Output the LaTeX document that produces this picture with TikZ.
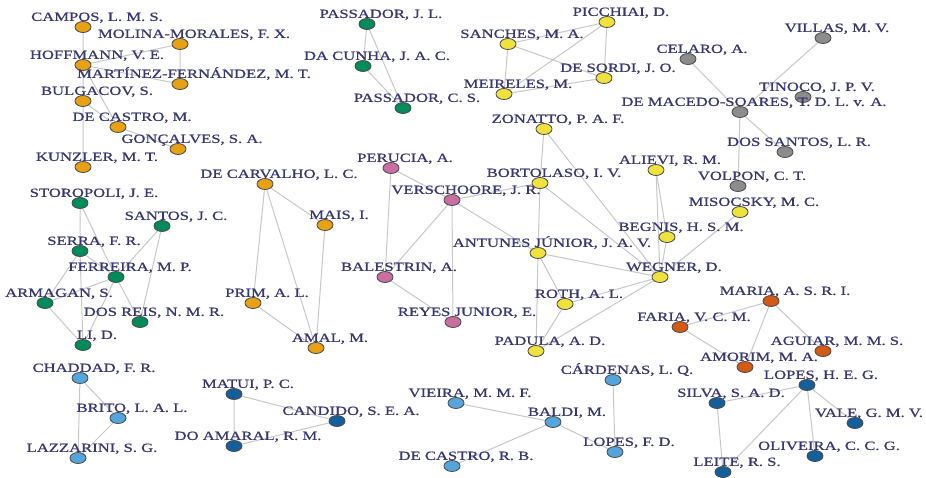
\documentclass[tikz,border=0pt]{standalone}
\usepackage{fontspec}
\setmainfont[FakeStretch=1.33,FakeBold=0.7]{Liberation Serif}
\usetikzlibrary{shapes.geometric,backgrounds}
\definecolor{authororange}{RGB}{232,160,20}
\definecolor{authorgreen}{RGB}{0,140,90}
\definecolor{authoryellow}{RGB}{240,226,60}
\definecolor{authorgray}{RGB}{140,140,140}
\definecolor{authorpink}{RGB}{200,110,160}
\definecolor{authorsky}{RGB}{85,165,220}
\definecolor{authornavy}{RGB}{20,95,155}
\definecolor{authorrust}{RGB}{210,90,20}
\definecolor{namecolor}{RGB}{55,55,115}
\definecolor{linkgray}{RGB}{200,200,200}

\begin{document}
\begin{tikzpicture}[x=1pt,y=-1pt,
  author/.style={ellipse,draw=black!70,line width=0.8pt,minimum width=16pt,
    minimum height=11pt,inner sep=0pt,fill=#1},
  authorname/.style={font=\fontsize{12.5}{13}\selectfont,text=namecolor,
    inner sep=0pt,text height=8pt,text depth=0pt,xshift=14pt},
  label distance=0pt,
  coauthor/.style={draw=linkgray,line width=1pt}]
  \useasboundingbox (0,0) rectangle (926,477);

  % orange group, top left
  \node [author=authororange, label={[authorname]above:{CAMPOS, L. M. S.}}] (campos) at (83,27) {};
  \node [author=authororange, label={[authorname]above:{MOLINA-MORALES, F. X.}}] (molina) at (180,44) {};
  \node [author=authororange, label={[authorname]above:{HOFFMANN, V. E.}}] (hoffmann) at (83,65) {};
  \node [author=authororange, label={[authorname]above:{MARTÍNEZ-FERNÁNDEZ, M. T.}}] (martinez) at (180,84) {};
  \node [author=authororange, label={[authorname]above:{BULGACOV, S.}}] (bulgacov) at (83,101) {};
  \node [author=authororange, label={[authorname]above:{DE CASTRO, M.}}] (decastrom) at (118,127) {};
  \node [author=authororange, label={[authorname]above:{GONÇALVES, S. A.}}] (goncalves) at (178,149) {};
  \node [author=authororange, label={[authorname]above:{KUNZLER, M. T.}}] (kunzler) at (83,167) {};

  % passador group
  \node [author=authorgreen, label={[authorname]above:{PASSADOR, J. L.}}] (passadorjl) at (367,24) {};
  \node [author=authorgreen, label={[authorname]above:{DA CUNHA, J. A. C.}}] (dacunha) at (363,66) {};
  \node [author=authorgreen, label={[authorname]above:{PASSADOR, C. S.}}] (passadorcs) at (403,108) {};

  % picchiai group
  \node [author=authoryellow, label={[authorname]above:{PICCHIAI, D.}}] (picchiai) at (607,22) {};
  \node [author=authoryellow, label={[authorname]above:{SANCHES, M. A.}}] (sanches) at (508,44) {};
  \node [author=authoryellow, label={[authorname]above:{DE SORDI, J. O.}}] (desordi) at (604,78) {};
  \node [author=authoryellow, label={[authorname]above:{MEIRELES, M.}}] (meireles) at (504,94) {};

  % gray group
  \node [author=authorgray, label={[authorname]above:{CELARO, A.}}] (celaro) at (688,59) {};
  \node [author=authorgray, label={[authorname]above:{VILLAS, M. V.}}] (villas) at (823,38) {};
  \node [author=authorgray, label={[authorname]above:{TINOCO, J. P. V.}}] (tinoco) at (803,97) {};
  \node [author=authorgray, label={[authorname]above:{DE MACEDO-SOARES, T. D. L. v. A.}}] (demacedo) at (740,112) {};
  \node [author=authorgray, label={[authorname]above:{DOS SANTOS, L. R.}}] (dossantos) at (785,152) {};
  \node [author=authorgray, label={[authorname]above:{VOLPON, C. T.}}] (volpon) at (738,186) {};

  % yellow group, centre
  \node [author=authoryellow, label={[authorname]above:{ZONATTO, P. A. F.}}] (zonatto) at (544,129) {};
  \node [author=authoryellow, label={[authorname]above:{BORTOLASO, I. V.}}] (bortolaso) at (540,183) {};
  \node [author=authoryellow, label={[authorname]above:{ALIEVI, R. M.}}] (alievi) at (656,170) {};
  \node [author=authoryellow, label={[authorname]above:{MISOCSKY, M. C.}}] (misocsky) at (740,212) {};
  \node [author=authoryellow, label={[authorname]above:{BEGNIS, H. S. M.}}] (begnis) at (667,237) {};
  \node [author=authoryellow, label={[authorname]above:{ANTUNES JÚNIOR, J. A. V.}}] (antunes) at (538,253) {};
  \node [author=authoryellow, label={[authorname]above:{WEGNER, D.}}] (wegner) at (660,277) {};
  \node [author=authoryellow, label={[authorname]above:{ROTH, A. L.}}] (roth) at (565,304) {};
  \node [author=authoryellow, label={[authorname]above:{PADULA, A. D.}}] (padula) at (536,351) {};

  % pink group
  \node [author=authorpink, label={[authorname]above:{PERUCIA, A.}}] (perucia) at (391,168) {};
  \node [author=authorpink, label={[authorname]above:{VERSCHOORE, J. R.}}] (verschoore) at (452,200) {};
  \node [author=authorpink, label={[authorname]above:{BALESTRIN, A.}}] (balestrin) at (385,277) {};
  \node [author=authorpink, label={[authorname]above:{REYES JUNIOR, E.}}] (reyes) at (453,322) {};

  % orange group, centre left
  \node [author=authororange, label={[authorname]above:{DE CARVALHO, L. C.}}] (decarvalho) at (265,184) {};
  \node [author=authororange, label={[authorname]above:{MAIS, I.}}] (mais) at (325,225) {};
  \node [author=authororange, label={[authorname]above:{PRIM, A. L.}}] (prim) at (253,303) {};
  \node [author=authororange, label={[authorname]above:{AMAL, M.}}] (amal) at (316,348) {};

  % green group, left
  \node [author=authorgreen, label={[authorname]above:{STOROPOLI, J. E.}}] (storopoli) at (80,203) {};
  \node [author=authorgreen, label={[authorname]above:{SANTOS, J. C.}}] (santos) at (162,226) {};
  \node [author=authorgreen, label={[authorname]above:{SERRA, F. R.}}] (serra) at (80,251) {};
  \node [author=authorgreen, label={[authorname]above:{FERREIRA, M. P.}}] (ferreira) at (116,277) {};
  \node [author=authorgreen, label={[authorname]above:{ARMAGAN, S.}}] (armagan) at (45,303) {};
  \node [author=authorgreen, label={[authorname]above:{DOS REIS, N. M. R.}}] (dosreis) at (140,322) {};
  \node [author=authorgreen, label={[authorname]above:{LI, D.}}] (li) at (83,345) {};

  % bottom row
  \node [author=authorsky, label={[authorname]above:{CHADDAD, F. R.}}] (chaddad) at (80,378) {};
  \node [author=authorsky, label={[authorname]above:{BRITO, L. A. L.}}] (brito) at (118,418) {};
  \node [author=authorsky, label={[authorname]above:{LAZZARINI, S. G.}}] (lazzarini) at (78,458) {};

  \node [author=authornavy, label={[authorname]above:{MATUI, P. C.}}] (matui) at (234,394) {};
  \node [author=authornavy, label={[authorname]above:{CANDIDO, S. E. A.}}] (candido) at (337,421) {};
  \node [author=authornavy, label={[authorname]above:{DO AMARAL, R. M.}}] (doamaral) at (234,446) {};

  \node [author=authorsky, label={[authorname]above:{VIEIRA, M. M. F.}}] (vieira) at (456,403) {};
  \node [author=authorsky, label={[authorname]above:{BALDI, M.}}] (baldi) at (553,422) {};
  \node [author=authorsky, label={[authorname]above:{DE CASTRO, R. B.}}] (decastrorb) at (452,466) {};
  \node [author=authorsky, label={[authorname]above:{CÁRDENAS, L. Q.}}] (cardenas) at (613,380) {};
  \node [author=authorsky, label={[authorname]above:{LOPES, F. D.}}] (lopesfd) at (615,452) {};

  \node [author=authorrust, label={[authorname]above:{MARIA, A. S. R. I.}}] (maria) at (771,301) {};
  \node [author=authorrust, label={[authorname]above:{FARIA, V. C. M.}}] (faria) at (680,327) {};
  \node [author=authorrust, label={[authorname]above:{AGUIAR, M. M. S.}}] (aguiar) at (823,351) {};
  \node [author=authorrust, label={[authorname]above:{AMORIM, M. A.}}] (amorim) at (745,367) {};

  \node [author=authornavy, label={[authorname]above:{LOPES, H. E. G.}}] (lopesheg) at (807,385) {};
  \node [author=authornavy, label={[authorname]above:{SILVA, S. A. D.}}] (silva) at (717,403) {};
  \node [author=authornavy, label={[authorname]above:{VALE, G. M. V.}}] (vale) at (855,423) {};
  \node [author=authornavy, label={[authorname]above:{OLIVEIRA, C. C. G.}}] (oliveira) at (815,456) {};
  \node [author=authornavy, label={[authorname]above:{LEITE, R. S.}}] (leite) at (723,472) {};

  % co-authorship links
  \begin{scope}[on background layer]
    \fill [white] (0,0) rectangle (926,477);
    \draw [coauthor] (campos) -- (hoffmann) (hoffmann) -- (bulgacov) (bulgacov) -- (kunzler)
      (hoffmann) -- (molina) (hoffmann) -- (martinez) (molina) -- (martinez)
      (hoffmann) -- (decastrom) (bulgacov) -- (decastrom) (decastrom) -- (goncalves);
    \draw [coauthor] (passadorjl) -- (dacunha) (passadorjl) -- (passadorcs) (dacunha) -- (passadorcs);
    \draw [coauthor] (picchiai) -- (sanches) (picchiai) -- (desordi) (picchiai) -- (meireles)
      (sanches) -- (desordi) (sanches) -- (meireles) (meireles) -- (desordi);
    \draw [coauthor] (celaro) -- (demacedo) (villas) -- (demacedo) (demacedo) -- (dossantos)
      (demacedo) -- (volpon);
    \draw [coauthor] (zonatto) -- (bortolaso) (zonatto) -- (wegner) (bortolaso) -- (antunes)
      (bortolaso) -- (wegner) (verschoore) -- (bortolaso) (verschoore) -- (antunes)
      (alievi) -- (wegner) (alievi) -- (begnis) (begnis) -- (wegner) (misocsky) -- (wegner)
      (antunes) -- (wegner) (antunes) -- (roth) (antunes) -- (padula) (roth) -- (padula)
      (roth) -- (wegner) (padula) -- (wegner);
    \draw [coauthor] (perucia) -- (verschoore) (perucia) -- (balestrin) (verschoore) -- (balestrin)
      (verschoore) -- (reyes) (balestrin) -- (reyes);
    \draw [coauthor] (decarvalho) -- (mais) (decarvalho) -- (prim) (decarvalho) -- (amal)
      (mais) -- (amal) (prim) -- (amal);
    \draw [coauthor] (storopoli) -- (serra) (storopoli) -- (ferreira) (santos) -- (ferreira)
      (santos) -- (dosreis) (serra) -- (ferreira) (serra) -- (armagan) (serra) -- (li)
      (ferreira) -- (armagan) (ferreira) -- (dosreis) (ferreira) -- (li) (armagan) -- (li);
    \draw [coauthor] (chaddad) -- (brito) (chaddad) -- (lazzarini) (brito) -- (lazzarini);
    \draw [coauthor] (matui) -- (candido) (matui) -- (doamaral) (candido) -- (doamaral);
    \draw [coauthor] (vieira) -- (baldi) (baldi) -- (decastrorb) (baldi) -- (lopesfd)
      (cardenas) -- (lopesfd);
    \draw [coauthor] (maria) -- (faria) (maria) -- (amorim) (maria) -- (aguiar) (faria) -- (amorim);
    \draw [coauthor] (lopesheg) -- (silva) (lopesheg) -- (leite) (lopesheg) -- (vale)
      (lopesheg) -- (oliveira) (silva) -- (leite);
  \end{scope}
\end{tikzpicture}
\end{document}
